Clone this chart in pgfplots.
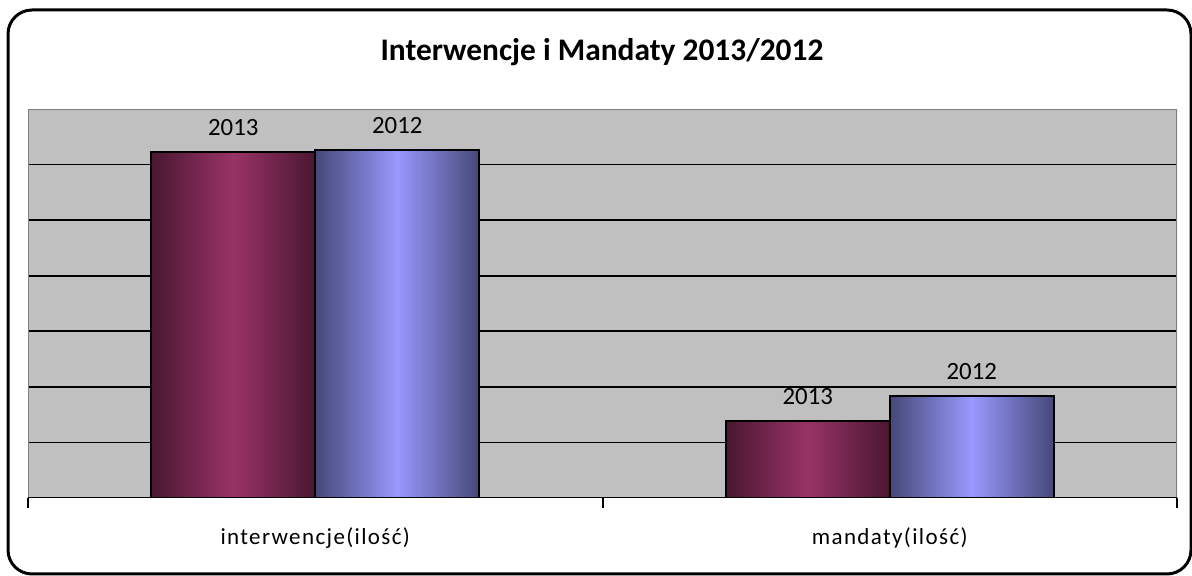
\documentclass[border=0pt]{standalone}
\usepackage{pgfplots}
\pgfplotsset{compat=1.18}
\usepackage{fontspec}
\setmainfont{Carlito}
\newfontfamily\ticklblfont[LetterSpace=6]{Carlito}

\definecolor{plotgray}{HTML}{C0C0C0}
\definecolor{framegray}{HTML}{808080}
\definecolor{wineDark}{HTML}{4A1731}
\definecolor{wineLight}{HTML}{993366}
\definecolor{lilacDark}{HTML}{464878}
\definecolor{lilacLight}{HTML}{9999FF}

% colours run dark - light - dark across each bar (TikZ maps 25bp..75bp onto the bar)
\pgfdeclarehorizontalshading{barwine}{100bp}{color(0bp)=(wineDark); color(25bp)=(wineDark); color(50bp)=(wineLight); color(75bp)=(wineDark); color(100bp)=(wineDark)}
\pgfdeclarehorizontalshading{barlilac}{100bp}{color(0bp)=(lilacDark); color(25bp)=(lilacDark); color(50bp)=(lilacLight); color(75bp)=(lilacDark); color(100bp)=(lilacDark)}

\begin{document}
\begin{tikzpicture}
    \useasboundingbox (-14pt,-39pt) rectangle (582pt,249pt);
    \draw[line width=1.5pt, rounded corners=12pt] (-10pt,-38pt) rectangle (581.5pt,244pt);
    \node[font=\fontsize{15.7}{18}\selectfont\bfseries] at (287pt,223pt) {Interwencje i Mandaty 2013/2012};
    \begin{axis}[
        scale only axis,
        width=574.5pt,
        height=194.5pt,
        xmin=-0.5, xmax=1.5,
        ymin=0, ymax=7,
        ybar=0pt,
        bar width=82pt,
        xtick={0,1},
        xticklabels={interwencje(ilość),mandaty(ilość)},
        minor xtick={-0.5,0.5,1.5},
        major tick length=0pt,
        minor tick length=5pt,
        tick align=outside,
        xtick pos=left,
        minor tick style={black, line width=1pt},
        xticklabel style={font=\ticklblfont\fontsize{11.5}{13}\selectfont, anchor=center, yshift=-20pt},
        ytick={1,2,3,4,5,6},
        yticklabels={},
        ymajorgrids,
        grid style={black, line width=0.8pt},
        axis background/.style={fill=plotgray},
        axis line style={draw=none},
        every node near coord/.append style={font=\fontsize{12.4}{14}\selectfont, anchor=center, yshift=12.5pt, black},
        y2013/.style={shading=barwine, draw=black, line width=0.9pt, bar shift=-41pt, nodes near coords={2013}},
        y2012/.style={shading=barlilac, draw=black, line width=0.9pt, bar shift=41pt, nodes near coords={2012}},
    ]
        % one plot per bar so that every bar gets its own shading
        \addplot[y2013] coordinates {(0,6.22)};
        \addplot[y2012] coordinates {(0,6.26)};
        \addplot[y2013] coordinates {(1,1.38)};
        \addplot[y2012] coordinates {(1,1.83)};
        \draw[framegray, line width=1pt] (rel axis cs:0,0) -- (rel axis cs:0,1) -- (rel axis cs:1,1) -- (rel axis cs:1,0);
        \draw[black, line width=1.2pt] (rel axis cs:0,0) -- (rel axis cs:1,0);
    \end{axis}
\end{tikzpicture}
\end{document}
